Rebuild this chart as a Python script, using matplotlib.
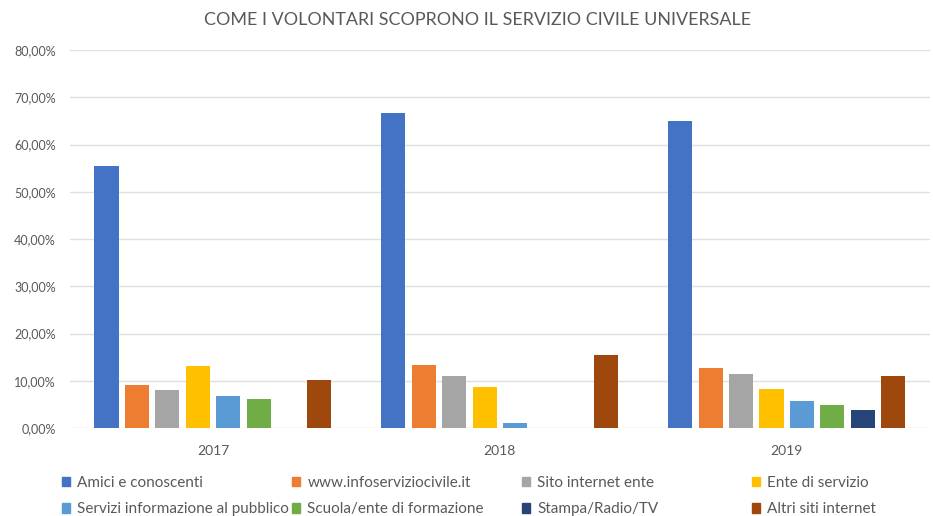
import numpy as np
import matplotlib.pyplot as plt
from matplotlib.patches import Patch
from matplotlib.ticker import FuncFormatter

plt.rcParams['font.family'] = ['Lato', 'DejaVu Sans']

years = ['2017', '2018', '2019']
series = ['Amici e conoscenti', 'www.infoserviziocivile.it', 'Sito internet ente',
          'Ente di servizio', 'Servizi informazione al pubblico',
          'Scuola/ente di formazione', 'Stampa/Radio/TV', 'Altri siti internet']
amici = [55.5, 66.7, 64.9]
infosito = [9.2, 13.3, 12.6]
sito_ente = [8.1, 11.1, 11.5]
ente = [13.2, 8.7, 8.3]
servizi = [6.7, 1.1, 5.8]
scuola = [6.2, 0.0, 4.9]
stampa = [0.0, 0.0, 3.8]
altri = [10.1, 15.5, 11.0]
values = [amici, infosito, sito_ente, ente, servizi, scuola, stampa, altri]
colors = ['#4472C4', '#ED7D31', '#A5A5A5', '#FFC000', '#5B9BD5', '#70AD47', '#264478', '#9E480E']

grey = '#595959'

fig = plt.figure(figsize=(9.33, 5.16), dpi=100)
ax = fig.add_axes([0.0745, 0.1705, 0.9225, 0.7325])

x = np.arange(len(years))
step = 0.106
width = 0.084
for i, (vals, c) in enumerate(zip(values, colors)):
    ax.bar(x + (i - 3.5) * step, vals, width=width, color=c, zorder=3)

ax.set_xlim(-0.5, 2.5)
ax.set_ylim(0, 80)
ax.set_yticks(np.arange(0, 81, 10))
ax.yaxis.set_major_formatter(FuncFormatter(lambda v, p: ('%.2f%%' % v).replace('.', ',')))
ax.set_xticks(x)
ax.set_xticklabels(years)
ax.tick_params(axis='both', length=0, colors=grey)
ax.tick_params(axis='y', labelsize=9, pad=10)
ax.tick_params(axis='x', labelsize=10, pad=12)
ax.grid(axis='y', color='#E0E0E0', linewidth=1, zorder=0)
for s in ax.spines.values():
    s.set_visible(False)

fig.text(0.512, 0.961, 'COME I VOLONTARI SCOPRONO IL SERVIZIO CIVILE UNIVERSALE',
         ha='center', va='center', fontsize=12.9, color=grey)

# legend: 4 columns of 2 rows, equal column spacing
col_x = [62, 292, 522, 752]
for j, cx in enumerate(col_x):
    idx = [j, j + 4]
    handles = [Patch(color=colors[k]) for k in idx]
    fig.legend(handles, [series[k] for k in idx], loc='center left',
               bbox_to_anchor=(cx / 933, 1 - 496 / 516), frameon=False,
               fontsize=11, handlelength=0.55, handleheight=0.55, handletextpad=0.45,
               labelspacing=0.85, borderpad=0, borderaxespad=0, labelcolor=grey)

fig.savefig('out.png', dpi=100)
